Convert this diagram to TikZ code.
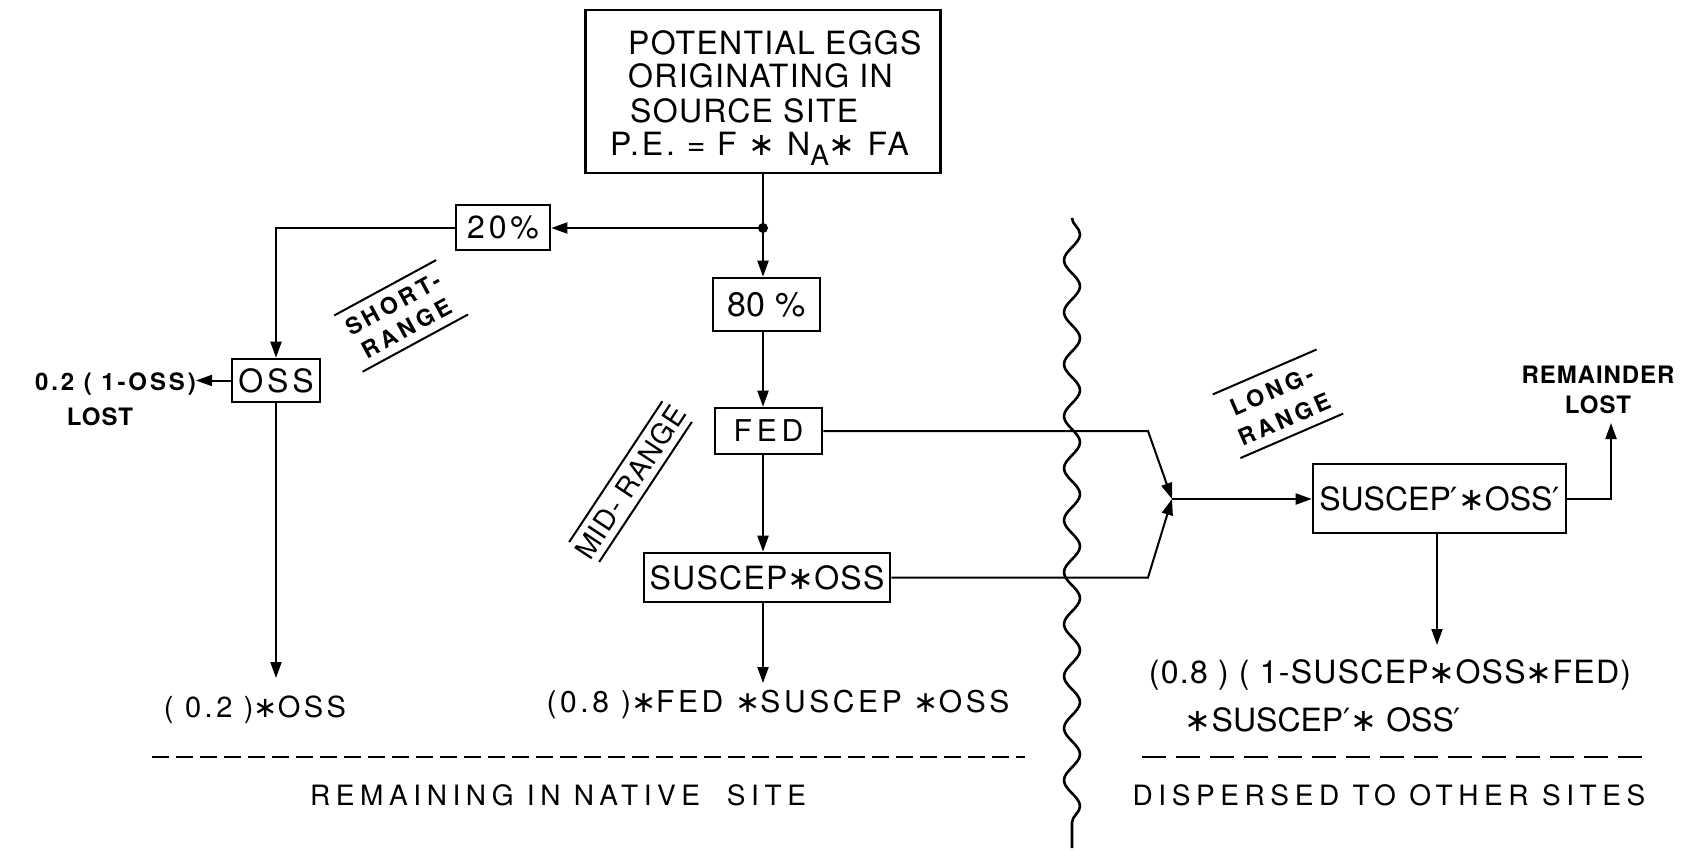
\documentclass[tikz,border=0pt]{standalone}
\usepackage{fontspec}
\setmainfont{TeX Gyre Heros}
\newfontfamily\hB[LetterSpace=4]{TeX Gyre Heros}
\newfontfamily\hF[LetterSpace=9]{TeX Gyre Heros}
\newfontfamily\hC[LetterSpace=12]{TeX Gyre Heros}
\newfontfamily\hD[LetterSpace=16]{TeX Gyre Heros}
\newfontfamily\hE[LetterSpace=20]{TeX Gyre Heros}
\newfontfamily\djs{DejaVu Sans}
\usetikzlibrary{arrows.meta,decorations.pathmorphing}
\newcommand\fsz[1]{\fontsize{#1pt}{#1pt}\selectfont}
\newcommand\ST{{\djs ∗}}
\newcommand\PR{{\djs ′}}
\tikzset{
  box/.style={draw, line width=2.6pt, inner sep=0pt},
  lbl/.style={inner sep=0pt},
  conn/.style={line width=2pt},
  arr/.style={line width=2pt, -{Triangle[length=16pt,width=11pt]}},
  rule/.style={line width=2pt},
}
\begin{document}
\begin{tikzpicture}[x=1pt,y=-1pt]
\useasboundingbox (0,0) rectangle (1681,851);
\fill[white] (0,0) rectangle (1681,851);

% boxes
\node[box, minimum width=355pt, minimum height=163pt] (pe) at (763,91.5) {};
\node[lbl, anchor=base west] (pe1) at (628,55) {\hB\fsz{32}POTENTIAL EGGS};
\node[lbl, anchor=base west] (pe2) at (628,88) {\hB\fsz{32}ORIGINATING IN};
\node[lbl, anchor=base west] (pe3) at (630,122) {\hB\fsz{32}SOURCE SITE};
\node[lbl, anchor=base west] (pe4) at (610,155) {\hF\fsz{32}P.E. = F \ST{} N\raisebox{-10pt}{\fsz{28}A}\ST{} FA};

\node[box, minimum width=94pt, minimum height=45pt] (p20) at (503,227.5) {\hC\fsz{32}20\%};
\node[box, minimum width=107pt, minimum height=53pt] (p80) at (766.5,304.5) {\fsz{34}80 \%};
\node[box, minimum width=107pt, minimum height=46pt] (fed) at (768.5,431) {\hD\fsz{30}FED};
\node[box, minimum width=246pt, minimum height=49pt] (sus) at (767,577.5) {\hB\fsz{32}SUSCEP\ST OSS};
\node[box, minimum width=88pt, minimum height=43pt] (oss) at (276,380.5) {\hC\fsz{32}OSS};
\node[box, minimum width=253pt, minimum height=69pt] (susp) at (1439.5,498.5) {\fsz{32}SUSCEP\PR\ST OSS\PR};

% split point
\coordinate (split) at (763,228);
\fill (split) circle (5pt);

% texts
\node[lbl, anchor=base east] (ossl) at (196,390) {\hC\bfseries\fsz{24}0.2 ( 1-OSS)};
\node[lbl] (lost1) at (100,417) {\hB\bfseries\fsz{24}LOST};
\node[lbl] (r02) at (255,710) {\hC\fsz{29}( 0.2 )\ST OSS};
\node[lbl] (rmid) at (778,704) {\hC\fsz{30}(0.8 )\ST FED \ST SUSCEP \ST OSS};
\node[lbl, align=center, font={\hB\bfseries\fsz{24}}] (rem) at (1598,390) {REMAINDER\\[6pt]LOST};
\node[lbl] (rr1) at (1390,675) {\hB\fsz{32}(0.8 ) ( 1-SUSCEP\ST OSS\ST FED)};
\node[lbl] (rr2) at (1323,720) {\fsz{32}\ST SUSCEP\PR\ST{} OSS\PR};
\node[lbl] (bl) at (558,795) {\hE\fsz{28}REMAINING IN NATIVE\ \ SITE};
\node[lbl] (br) at (1389,795) {\hE\fsz{28}DISPERSED TO OTHER SITES};

% rotated labels
\node[lbl, rotate=28.5, align=center, font={\hD\bfseries\fsz{23}}] (short) at (400,316) {SHORT-\\[5pt]RANGE};
\begin{scope}[shift={(400,315)}, rotate=28.5]
  \draw[rule] (-58,-31) -- (58,-31);
  \draw[rule] (-60,32) -- (60,32);
\end{scope}
\node[lbl, rotate=23.4, align=center, font={\hD\bfseries\fsz{23}}] (long) at (1278,405) {LONG-\\[8pt]RANGE};
\begin{scope}[shift={(1278,404)}, rotate=23.4]
  \draw[rule] (-56,-34.7) -- (57,-34.7);
  \draw[rule] (-56,34.7) -- (56,34.7);
\end{scope}
\node[lbl, rotate=56.5] (mid) at (630.5,482) {\hB\fsz{28}MID- RANGE};
\begin{scope}[shift={(630.5,482)}, rotate=56.5]
  \draw[rule] (-84,-18) -- (85,-18);
  \draw[rule] (-84,18) -- (84,18);
\end{scope}

% coordinates
\coordinate (t02) at (276,678);
\coordinate (tmid) at (763,683);
\coordinate (J) at (1172,499);
\coordinate (kF) at (1148,431);
\coordinate (kS) at (1148,576);
\coordinate (remtip) at (1611,423);
\coordinate (trr) at (1437,645);

% connectors
\draw[conn] (pe.south -| split) -- (split);
\draw[arr] (split) -- (split -| p20.east);
\draw[arr] (split) -- (split |- p80.north);
\draw[arr] (p20.west) -- (p20.west -| oss.north) -- (oss.north);
\draw[arr] (oss.west) -- (oss.west -| ossl.east);
\draw[arr] (oss.south) -- (t02);
\draw[arr] (p80.south -| split) -- (fed.north -| split);
\draw[arr] (fed.south -| split) -- (sus.north -| split);
\draw[arr] (sus.south -| split) -- (tmid);
\draw[arr] (fed.east) -- (fed.east -| kF) -- (J);
\draw[arr] (sus.east) -- (sus.east -| kS) -- (J);
\draw[arr] (J) -- (J -| susp.west);
\draw[arr] (susp.east) -| (remtip);
\draw[arr] (susp.south -| trr) -- (trr);

% dashed separators
\draw[line width=2.6pt, dash pattern=on 17pt off 7pt] (152,757) -- (1025,757);
\draw[line width=2.6pt, dash pattern=on 24pt off 10pt] (1142,757) -- (1648,757);

% wavy boundary
\draw[line width=2.6pt, decorate, decoration={snake, segment length=52pt, amplitude=8pt}] (1072,218) -- (1072,848);
\end{tikzpicture}
\end{document}
